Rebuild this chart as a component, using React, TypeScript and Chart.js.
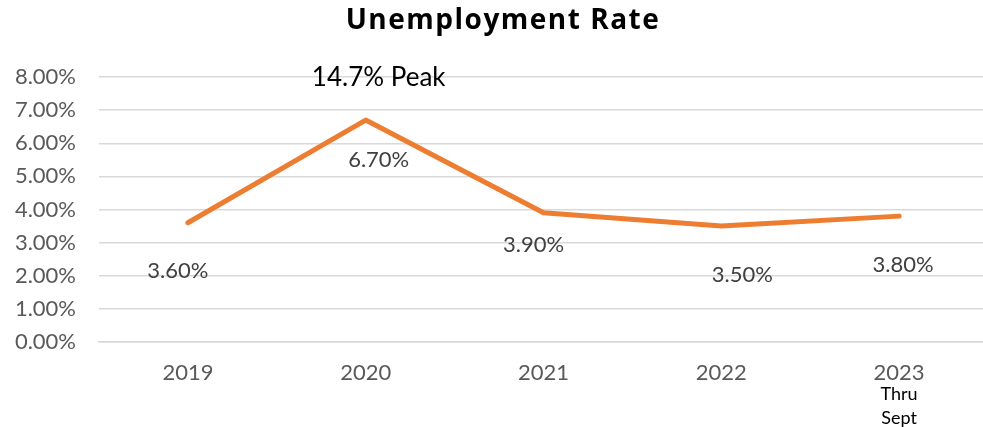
import React, { useEffect, useRef } from "react";
import { Chart, registerables } from "chart.js";

Chart.register(...registerables);

// ---- data ----
const categories: string[] = ["2019", "2020", "2021", "2022", "2023"];
const categorySubLines: string[][] = [[], [], [], [], ["Thru", "Sept"]];
const rates: number[] = [3.6, 6.7, 3.9, 3.5, 3.8];
const yMin = 0;
const yMax = 8;
const yStep = 1;
const chartTitle = "Unemployment Rate";
const peakNote = "14.7% Peak";
const peakIndex = 1;

// ---- styles ----
const FONT = "Lato, 'Open Sans', sans-serif";
const TITLE_FONT = "'Open Sans', Lato, sans-serif";
const LINE_COLOR = "#ED7D31";
const GRID_COLOR = "#d9d9d9";
const TEXT_GRAY = "#595959";
const LABEL_GRAY = "#404040";
const labelOffsets: [number, number][] = [
  [-10, 48],
  [13, 40],
  [-10, 32],
  [21, 49],
  [4, 49],
];
const peakOffset: [number, number] = [13, -34];

const overlayPlugin = {
  id: "overlay",
  afterDraw(chart: any) {
    const ctx: CanvasRenderingContext2D = chart.ctx;
    const meta = chart.getDatasetMeta(0);
    ctx.save();
    ctx.textAlign = "center";

    // title
    ctx.textBaseline = "alphabetic";
    ctx.font = `bold 28px ${TITLE_FONT}`;
    ctx.fillStyle = "#000000";
    (ctx as any).letterSpacing = "1.5px";
    ctx.fillText(chartTitle, 503, 29);
    (ctx as any).letterSpacing = "0px";

    // peak note
    const pk = meta.data[peakIndex];
    if (pk) {
      ctx.font = `26px ${FONT}`;
      ctx.fillStyle = "#000000";
      ctx.fillText(peakNote, pk.x + peakOffset[0], pk.y + peakOffset[1]);
    }

    // data labels
    ctx.textBaseline = "middle";
    ctx.font = `22px ${FONT}`;
    ctx.fillStyle = LABEL_GRAY;
    meta.data.forEach((pt: any, i: number) => {
      const [dx, dy] = labelOffsets[i] || [0, 0];
      ctx.fillText(rates[i].toFixed(2) + "%", pt.x + dx, pt.y + dy);
    });

    // category sub-lines
    ctx.font = `18px ${FONT}`;
    ctx.fillStyle = "#000000";
    const xs = chart.scales.x;
    categorySubLines.forEach((lines, i) => {
      const x = xs.getPixelForValue(i);
      lines.forEach((t, j) => {
        ctx.fillText(t, x, xs.bottom - 33 + j * 24);
      });
    });
    ctx.restore();
  },
};

export default function App() {
  const ref = useRef<HTMLCanvasElement | null>(null);

  useEffect(() => {
    if (!ref.current) return;
    const chart = new Chart(ref.current, {
      type: "line",
      data: {
        labels: categories,
        datasets: [
          {
            data: rates,
            borderColor: LINE_COLOR,
            backgroundColor: LINE_COLOR,
            borderWidth: 5,
            borderCapStyle: "round",
            borderJoinStyle: "round",
            pointRadius: 0,
            pointHoverRadius: 0,
            tension: 0,
          },
        ],
      },
      options: {
        animation: false,
        responsive: false,
        maintainAspectRatio: false,
        layout: { padding: { top: 77, right: 2, left: 0, bottom: 0 } },
        plugins: {
          legend: { display: false },
          title: { display: false },
          tooltip: { enabled: false },
        },
        scales: {
          x: {
            type: "category",
            offset: true,
            grid: { display: false, drawTicks: false },
            border: { display: true, color: GRID_COLOR, width: 1.5 },
            ticks: {
              color: TEXT_GRAY,
              font: { family: FONT, size: 22 },
              padding: 18,
              maxRotation: 0,
              autoSkip: false,
            },
            afterFit: (scale: any) => {
              scale.height = 85;
            },
          },
          y: {
            min: yMin,
            max: yMax,
            grid: { color: GRID_COLOR, lineWidth: 1.5, drawTicks: false },
            border: { display: false },
            ticks: {
              stepSize: yStep,
              color: TEXT_GRAY,
              font: { family: FONT, size: 22 },
              padding: 23,
              callback: (v: any) => Number(v).toFixed(2) + "%",
            },
            afterFit: (scale: any) => {
              scale.width = 99;
            },
          },
        },
      },
      plugins: [overlayPlugin],
    });
    return () => chart.destroy();
  }, []);

  return (
    <div
      style={{
        position: "fixed",
        left: 0,
        top: 0,
        width: 990,
        height: 427,
        background: "#ffffff",
      }}
    >
      <canvas ref={ref} width={990} height={427} style={{ display: "block" }} />
    </div>
  );
}
